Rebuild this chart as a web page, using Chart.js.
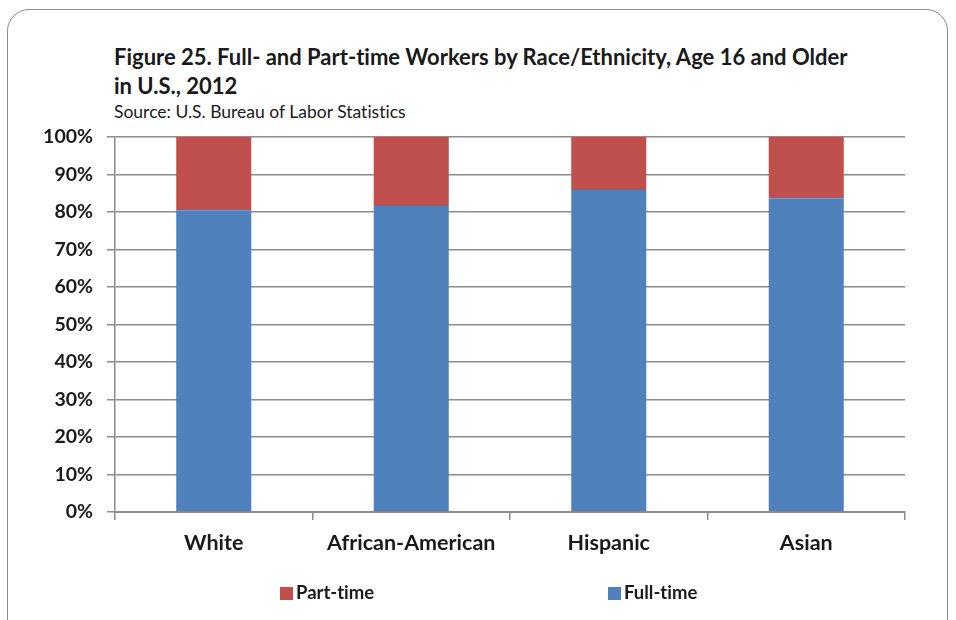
<!DOCTYPE html>
<html>
<head>
<meta charset="utf-8">
<script src="https://cdn.jsdelivr.net/npm/chart.js@4.4.1/dist/chart.umd.min.js"></script>
<style>
  html, body { margin: 0; padding: 0; background: #fff; }
  body { width: 956px; height: 620px; position: relative; overflow: hidden; font-family: Lato, "Open Sans", sans-serif; font-variant-ligatures: none; }
  #frame { position: absolute; left: 7px; top: 9px; width: 941px; height: 640px; border: 1.5px solid #8c8c8c; border-radius: 22px; box-sizing: border-box; }
  #title { position: absolute; left: 114px; top: 42px; font-weight: bold; font-size: 22px; line-height: 29px; color: #1a1a1a; }
  #source { position: absolute; left: 114px; top: 101px; font-size: 17.5px; color: #1a1a1a; }
  #wrap { position: absolute; left: 0; top: 0; width: 956px; height: 620px; }
  .leg { position: absolute; top: 582px; font-weight: bold; font-size: 18.5px; color: #1a1a1a; line-height: 20px; white-space: nowrap; }
  .leg i { display: inline-block; width: 13px; height: 13px; margin-right: 3px; vertical-align: -1px; }
</style>
</head>
<body>
<div id="frame"></div>
<div id="title">Figure 25. Full- and Part-time Workers by Race/Ethnicity, Age 16 and Older<br>in U.S., 2012</div>
<div id="source">Source: U.S. Bureau of Labor Statistics</div>
<div id="wrap"><canvas id="c" width="956" height="620"></canvas></div>
<div id="legend"></div>
<script>
const categories = ["White", "African-American", "Hispanic", "Asian"];
const fullTime = [80.5, 81.6, 85.9, 83.6];
const partTime = [19.5, 18.4, 14.1, 16.4];
const yTicks = [0, 10, 20, 30, 40, 50, 60, 70, 80, 90, 100];

const gridColor = "#8c8c8c";
const font = "Lato, 'Open Sans', sans-serif";

const chart = new Chart(document.getElementById("c"), {
  type: "bar",
  data: {
    labels: categories,
    datasets: [
      { label: "Full-time", data: fullTime, backgroundColor: "#4F81BD", barPercentage: 0.38, categoryPercentage: 1.0 },
      { label: "Part-time", data: partTime, backgroundColor: "#C0504D", barPercentage: 0.38, categoryPercentage: 1.0 }
    ]
  },
  options: {
    responsive: false,
    animation: false,
    layout: { padding: { left: 0, right: 51, top: 137, bottom: 50 } },
    plugins: {
      title: { display: false },
      tooltip: { enabled: false },
      legend: { display: false }
    },
    scales: {
      x: {
        stacked: true,
        grid: { display: true, drawOnChartArea: false, drawTicks: true, tickLength: 8, color: gridColor, lineWidth: 1.5, offset: true },
        border: { display: true, color: gridColor, width: 2 },
        ticks: { color: "#1a1a1a", padding: 10, font: { family: font, size: 21.5, weight: "bold" } },
        afterFit: (s) => { s.height = 58; }
      },
      y: {
        stacked: true,
        min: 0, max: 100,
        afterBuildTicks: (s) => { s.ticks = yTicks.map(v => ({ value: v })); },
        grid: { color: gridColor, lineWidth: 1.5, drawTicks: true, tickLength: 8 },
        border: { display: true, color: gridColor, width: 1.5 },
        ticks: { autoSkip: false, color: "#1a1a1a", padding: 14, callback: (v) => v + "%", font: { family: font, size: 19.5, weight: "bold" } },
        afterFit: (s) => { s.width = 115; }
      }
    }
  }
});

// legend built from the datasets (Part-time first, as in the original)
const legendPos = { "Part-time": 280, "Full-time": 608 };
const legendEl = document.getElementById("legend");
chart.data.datasets.slice().reverse().forEach(ds => {
  const d = document.createElement("div");
  d.className = "leg";
  d.style.left = legendPos[ds.label] + "px";
  d.innerHTML = '<i style="background:' + ds.backgroundColor + '"></i>' + ds.label;
  legendEl.appendChild(d);
});
</script>
</body>
</html>
